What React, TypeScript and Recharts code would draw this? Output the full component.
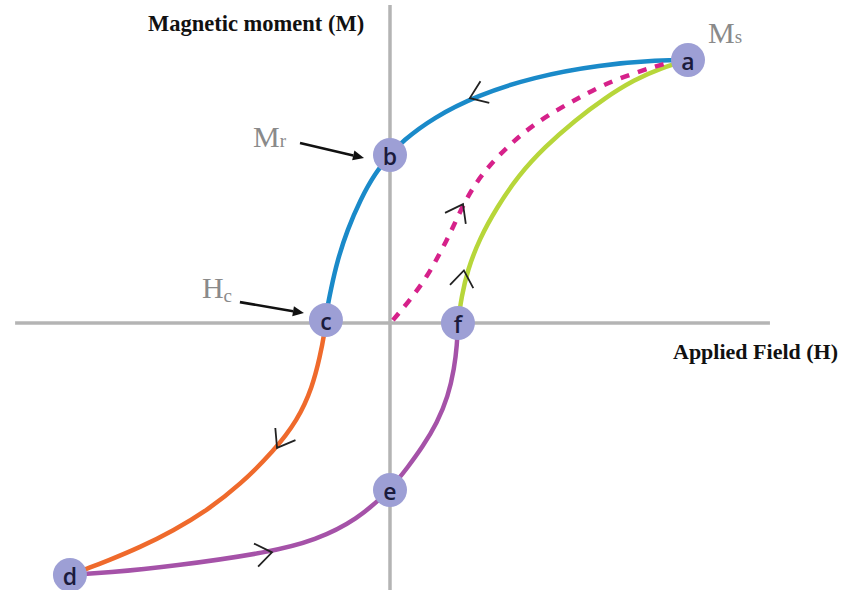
import { LineChart, Line, XAxis, YAxis, ReferenceLine, ReferenceDot } from "recharts";

// hysteresis loop, H and M normalised so that point a (saturation) sits at (1, 1)
const descending = [ // a -> b -> c (listed by increasing H)
  [-0.215, 0.011], [-0.212, 0.049], [-0.199, 0.125], [-0.176, 0.24], [-0.143, 0.354],
  [-0.1, 0.468], [-0.05, 0.57], [0, 0.639], [0.04, 0.69], [0.144, 0.78],
  [0.292, 0.865], [0.48, 0.935], [0.705, 0.982], [0.906, 1.0], [1.0, 1.0],
];
const reverseSat = [ // c -> d
  [-1.074, -0.958], [-1.007, -0.93], [-0.95, -0.905], [-0.839, -0.853], [-0.728, -0.79],
  [-0.614, -0.713], [-0.503, -0.615], [-0.39, -0.487], [-0.31, -0.37], [-0.26, -0.243],
  [-0.234, -0.122], [-0.221, -0.046], [-0.215, 0.011],
];
const ascending = [ // d -> e -> f
  [-1.074, -0.958], [-0.95, -0.95], [-0.728, -0.925], [-0.403, -0.872], [-0.25, -0.826],
  [-0.111, -0.749], [0, -0.635], [0.06, -0.548], [0.11, -0.47], [0.158, -0.38],
  [0.195, -0.28], [0.216, -0.17], [0.225, -0.084], [0.228, 0],
];
const remagnetise = [ // f -> a
  [0.228, 0], [0.24, 0.1], [0.26, 0.2], [0.3, 0.32], [0.359, 0.44], [0.43, 0.56],
  [0.52, 0.67], [0.62, 0.77], [0.72, 0.855], [0.82, 0.925], [0.91, 0.97], [1.0, 1.0],
];
const initial = [ // origin -> a, virgin curve
  [0.01, 0.011], [0.067, 0.087], [0.124, 0.175], [0.168, 0.266], [0.208, 0.354], [0.245, 0.449],
  [0.292, 0.54], [0.346, 0.615], [0.413, 0.69], [0.48, 0.752], [0.56, 0.81], [0.638, 0.859],
  [0.715, 0.905], [0.805, 0.945], [0.896, 0.978], [0.946, 0.992],
];

const pointNames = ["a", "b", "c", "d", "e", "f"];
const pointH = [1.0, 0, -0.215, -1.074, 0, 0.228];
const pointM = [1.0, 0.639, 0.011, -0.958, -0.635, 0];

// direction arrows on the loop: position and heading (deg, screen)
const arrowH = [0.268, -0.379, -0.396, 0.248, 0.245];
const arrowM = [0.855, -0.475, -0.872, 0.2, 0.452];
const arrowDir = [158, 121, -10, -82, -62];

const toRows = (pts: number[][]) => pts.map(([h, m]) => ({ h, m }));

const serif = "'Liberation Serif', 'Times New Roman', serif";

const Chevron = ({ cx, cy, angle }: any) => {
  const len = 20;
  const spread = 36;
  const a1 = ((angle + 180 - spread) * Math.PI) / 180;
  const a2 = ((angle + 180 + spread) * Math.PI) / 180;
  return (
    <path
      d={`M${cx + len * Math.cos(a1)},${cy + len * Math.sin(a1)} L${cx},${cy} L${cx + len * Math.cos(a2)},${cy + len * Math.sin(a2)}`}
      stroke="#222"
      strokeWidth={1.8}
      fill="none"
    />
  );
};

const Pointer = ({ x1, y1, x2, y2 }: any) => {
  const ang = Math.atan2(y2 - y1, x2 - x1);
  const hl = 11;
  const hw = 5;
  const bx = x2 - hl * Math.cos(ang);
  const by = y2 - hl * Math.sin(ang);
  return (
    <g>
      <line x1={x1} y1={y1} x2={bx} y2={by} stroke="#111" strokeWidth={2.6} />
      <path
        d={`M${x2},${y2} L${bx - hw * Math.sin(ang)},${by + hw * Math.cos(ang)} L${bx + hw * Math.sin(ang)},${by - hw * Math.cos(ang)} Z`}
        fill="#111"
      />
    </g>
  );
};

const PointMarker = (props: any) => {
  const { cx, cy, name } = props;
  return (
    <g>
      {name === "a" && (
        <text x={cx + 20} y={cy - 17} fontFamily={serif} fontSize={30} fill="#8a8a8a">
          M<tspan fontSize={19}>s</tspan>
        </text>
      )}
      {name === "b" && (
        <g>
          <text x={cx - 137} y={cy - 8} fontFamily={serif} fontSize={30} fill="#8a8a8a">
            M<tspan fontSize={19}>r</tspan>
          </text>
          <Pointer x1={cx - 90} y1={cy - 12} x2={cx - 26} y2={cy + 3} />
        </g>
      )}
      {name === "c" && (
        <g>
          <text x={cx - 124} y={cy - 22} fontFamily={serif} fontSize={30} fill="#8a8a8a">
            H<tspan fontSize={19} dy={4}>c</tspan>
          </text>
          <Pointer x1={cx - 86} y1={cy - 18} x2={cx - 22} y2={cy - 7} />
        </g>
      )}
      <circle cx={cx} cy={cy} r={17} fill="#9d9fd5" />
      <text
        x={cx}
        y={cy + 1}
        textAnchor="middle"
        dominantBaseline="central"
        fontFamily="'Open Sans', 'Noto Sans', sans-serif"
        fontSize={23}
        fontWeight={600}
        fill="#1b1b3c"
      >
        {name}
      </text>
    </g>
  );
};

const curves = [
  { key: "descending", data: descending, color: "#1a8ac9" },
  { key: "reverseSat", data: reverseSat, color: "#ef6a2c" },
  { key: "ascending", data: ascending, color: "#a552a8" },
  { key: "remagnetise", data: remagnetise, color: "#b7d63a" },
];

export default function App() {
  return (
    <div style={{ position: "absolute", left: 0, top: 0, width: 842, height: 590, background: "#fff" }}>
      <LineChart width={842} height={590} margin={{ top: 0, right: 0, bottom: 0, left: 0 }}>
        <XAxis dataKey="h" type="number" domain={[-1.3087, 1.5168]} hide allowDataOverflow />
        <YAxis dataKey="m" type="number" domain={[-1.0152, 1.2281]} hide allowDataOverflow />
        <ReferenceLine
          segment={[{ x: -1.258, y: 0 }, { x: 1.275, y: 0 }]}
          stroke="#b4b4b4"
          strokeWidth={3.5}
          ifOverflow="visible"
        />
        <ReferenceLine
          segment={[{ x: 0, y: 1.209 }, { x: 0, y: -1.015 }]}
          stroke="#b4b4b4"
          strokeWidth={3.5}
          ifOverflow="visible"
        />
        {curves.map((c) => (
          <Line
            key={c.key}
            data={toRows(c.data)}
            dataKey="m"
            type="basis"
            stroke={c.color}
            strokeWidth={4.5}
            dot={false}
            activeDot={false}
            isAnimationActive={false}
          />
        ))}
        <Line
          data={toRows(initial)}
          dataKey="m"
          type="basis"
          stroke="#d6218a"
          strokeWidth={4.5}
          strokeDasharray="9 9"
          dot={false}
          activeDot={false}
          isAnimationActive={false}
        />
        {arrowH.map((h, i) => (
          <ReferenceDot
            key={"arr" + i}
            x={h}
            y={arrowM[i]}
            r={0}
            shape={(p: any) => <Chevron cx={p.cx} cy={p.cy} angle={arrowDir[i]} />}
          />
        ))}
        {pointNames.map((n, i) => (
          <ReferenceDot
            key={n}
            x={pointH[i]}
            y={pointM[i]}
            r={17}
            shape={(p: any) => <PointMarker cx={p.cx} cy={p.cy} name={n} />}
          />
        ))}
      </LineChart>
      <svg width={842} height={590} style={{ position: "absolute", left: 0, top: 0, pointerEvents: "none" }}>
        <text x={148} y={31} fontFamily={serif} fontWeight="bold" fontSize={22.5} fill="#111">
          Magnetic moment (M)
        </text>
        <text x={673} y={359} fontFamily={serif} fontWeight="bold" fontSize={22} fill="#111">
          Applied Field (H)
        </text>
      </svg>
    </div>
  );
}
